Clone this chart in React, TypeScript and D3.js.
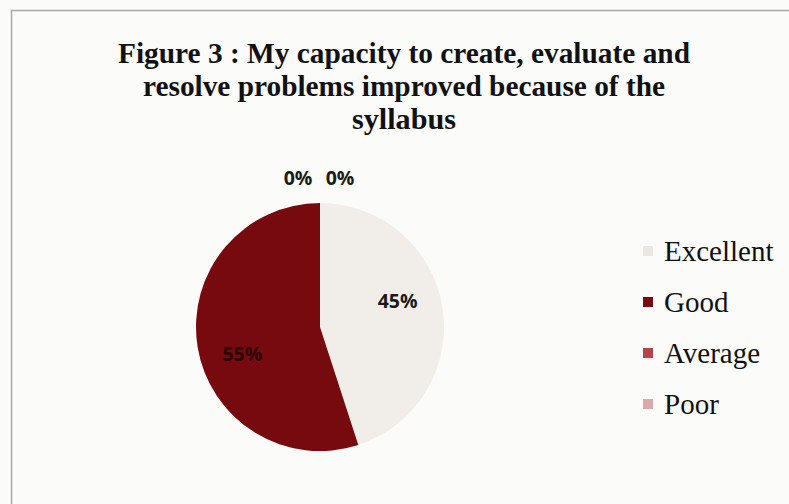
import { useEffect, useRef } from "react";
import * as d3 from "d3";

const categories = ["Excellent", "Good", "Average", "Poor"];
const values = [45, 55, 0, 0];
const colors = ["#f1ede8", "#760a0e", "#b0454a", "#d9a9ac"];
const titleLines = [
  "Figure 3 : My capacity to create, evaluate and",
  "resolve problems improved because of the",
  "syllabus",
];

export default function App() {
  const svgRef = useRef<SVGSVGElement | null>(null);

  useEffect(() => {
    document.body.style.margin = "0";
    if (!svgRef.current) return;

    const width = 789;
    const height = 504;
    const svg = d3.select(svgRef.current);
    svg.selectAll("*").remove();

    // background + frame (scan shows only left and top edge)
    svg.append("rect").attr("width", width).attr("height", height).attr("fill", "#fbfbfa");
    svg
      .append("path")
      .attr("d", `M11.5,${height} L11.5,10.5 L${width},10.5`)
      .attr("fill", "none")
      .attr("stroke", "#a9a9a9")
      .attr("stroke-width", 1.5);

    // title
    const title = svg
      .append("g")
      .attr("font-family", "'Liberation Serif', 'Times New Roman', serif")
      .attr("font-weight", "bold")
      .attr("font-size", 30)
      .attr("text-anchor", "middle")
      .attr("fill", "#111");
    const titleWidths = [572, 522, 104];
    titleLines.forEach((line, i) => {
      title
        .append("text")
        .attr("x", 404)
        .attr("y", 63 + i * 33)
        .attr("textLength", titleWidths[i])
        .attr("lengthAdjust", "spacingAndGlyphs")
        .text(line);
    });

    // pie
    const cx = 320;
    const cy = 327;
    const r = 124;
    const pie = d3
      .pie<number>()
      .sort(null)
      .value((d) => d);
    const arcs = pie(values);
    const arc = d3.arc<d3.PieArcDatum<number>>().innerRadius(0).outerRadius(r);

    const g = svg.append("g").attr("transform", `translate(${cx},${cy})`);
    g.selectAll("path.slice")
      .data(arcs)
      .join("path")
      .attr("class", "slice")
      .attr("d", arc)
      .attr("fill", (_, i) => colors[i]);

    // labels
    const labels = g
      .append("g")
      .attr("font-family", "'Open Sans', 'Liberation Sans', sans-serif")
      .attr("font-weight", "bold")
      .attr("font-size", 19.5)
      .attr("text-anchor", "middle")
      .attr("dominant-baseline", "central");

    let zeroIdx = 0;
    arcs.forEach((a, i) => {
      let x: number;
      let y: number;
      if (a.value === 0) {
        const ang = a.startAngle;
        x = Math.sin(ang) * (r + 26) + (zeroIdx === 0 ? -22 : 20);
        y = -Math.cos(ang) * (r + 26);
        zeroIdx++;
      } else {
        const ang = (a.startAngle + a.endAngle) / 2 - 0.17;
        x = Math.sin(ang) * 82;
        y = -Math.cos(ang) * 82;
      }
      labels
        .append("text")
        .attr("x", x)
        .attr("y", y)
        .attr("fill", i === 1 ? "#2a0506" : "#1a1a1a")
        .text(`${a.value}%`);
    });

    // legend
    const legend = svg
      .append("g")
      .attr("font-family", "'Liberation Serif', 'Times New Roman', serif")
      .attr("font-size", 29)
      .attr("fill", "#111");
    const ly = d3.scalePoint<string>().domain(categories).range([251, 404]);
    categories.forEach((c, i) => {
      const y = ly(c) ?? 0;
      legend
        .append("rect")
        .attr("x", 643)
        .attr("y", y - 5)
        .attr("width", 10)
        .attr("height", 10)
        .attr("fill", i === 0 ? "#ebe5df" : colors[i]);
      legend
        .append("text")
        .attr("x", 664)
        .attr("y", y)
        .attr("dominant-baseline", "central")
        .text(c);
    });
  }, []);

  return <svg ref={svgRef} width={789} height={504} style={{ display: "block" }} />;
}
